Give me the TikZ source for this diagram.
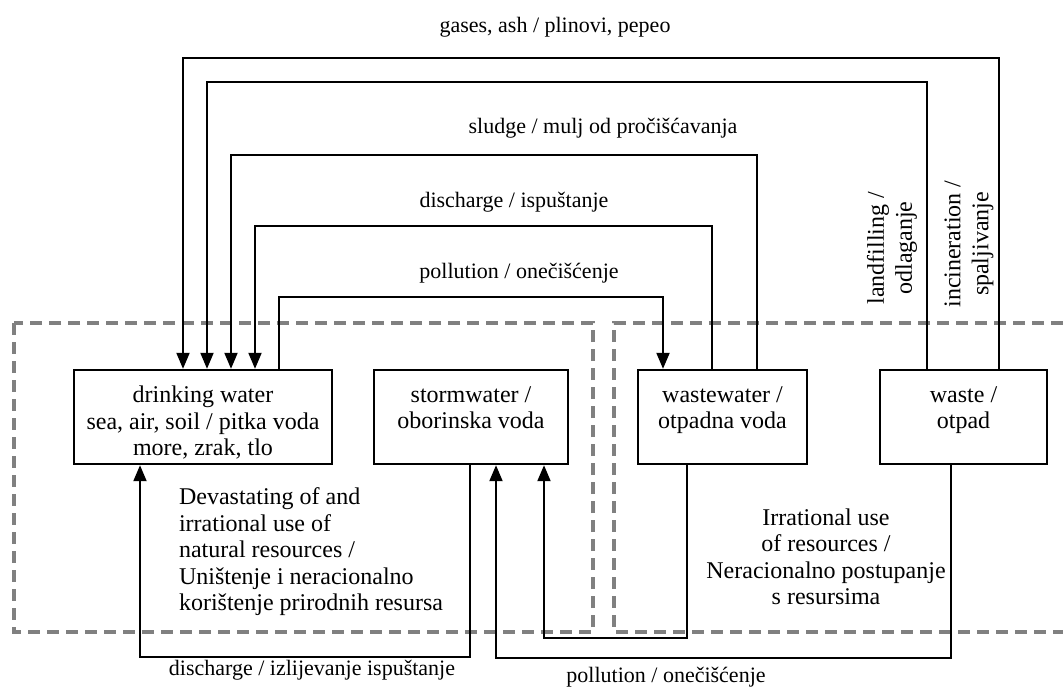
\documentclass[tikz,border=0pt]{standalone}
\usepackage{fontspec}
\setmainfont{Liberation Serif}
\usetikzlibrary{arrows.meta}

\begin{document}
\begin{tikzpicture}[x=0.5pt,y=-0.5pt,
    box/.style={draw, line width=1.2pt, minimum height=47pt, text height=40.25pt, text depth=1.75pt, inner sep=2.5pt, align=center, font=\fontsize{12}{13.25}\selectfont},
    twoline/.style={text height=26.75pt, text depth=15.25pt},
    flow/.style={line width=1pt, -{Triangle[length=8pt,width=6.5pt]}},
    zone/.style={draw=gray, line width=1.8pt, dash pattern=on 6pt off 3.5pt},
    lbl/.style={font=\fontsize{11}{13}\selectfont},
    note/.style={font=\fontsize{12}{13.25}\selectfont},
    vlbl/.style={rotate=90, align=center, font=\fontsize{12}{14}\selectfont}]
  \useasboundingbox (0,0) rectangle (1063,687);
  % zones
  \draw[zone] (14,323) rectangle (593,632);
  \draw[zone] (1063,323) -- (614,323) -- (614,632) -- (1063,632);
  % boxes
  \node[box, minimum width=129pt] (drink) at (203,417) {drinking water\\ sea, air, soil / pitka voda\\ more, zrak, tlo};
  \node[box, twoline, minimum width=97pt] (storm) at (471,417) {stormwater /\\ oborinska voda};
  \node[box, twoline, minimum width=84.5pt] (wwater) at (722.5,417) {wastewater /\\ otpadna voda};
  \node[box, twoline, minimum width=83.5pt] (waste) at (963.5,417) {waste /\\ otpad};
  % upper routes
  \coordinate (inc1) at (999,58);  \coordinate (inc2) at (183,58);
  \coordinate (land1) at (927,82); \coordinate (land2) at (207,82);
  \coordinate (sl1) at (757,155);  \coordinate (sl2) at (231,155);
  \coordinate (dis1) at (712,226); \coordinate (dis2) at (255,226);
  \coordinate (pol1) at (279,297); \coordinate (pol2) at (663,297);
  \draw[flow] (waste.north -| inc1) |- (inc2) -- (inc2 |- drink.north);
  \draw[flow] (waste.north -| land1) |- (land2) -- (land2 |- drink.north);
  \draw[flow] (wwater.north -| sl1) |- (sl2) -- (sl2 |- drink.north);
  \draw[flow] (wwater.north -| dis1) |- (dis2) -- (dis2 |- drink.north);
  \draw[flow] (drink.north -| pol1) |- (pol2) -- (pol2 |- wwater.north);
  % lower routes
  \coordinate (db1) at (470,657);  \coordinate (db2) at (140,657);
  \coordinate (wb1) at (687,638);  \coordinate (wb2) at (544,638);
  \coordinate (pb1) at (951,658);  \coordinate (pb2) at (496,658);
  \draw[flow] (storm.south -| db1) |- (db2) -- (db2 |- drink.south);
  \draw[flow] (wwater.south -| wb1) |- (wb2) -- (wb2 |- storm.south);
  \draw[flow] (waste.south -| pb1) |- (pb2) -- (pb2 |- storm.south);
  % labels
  \node[lbl] (lgas) at (555,27) {gases, ash / plinovi, pepeo};
  \node[lbl] (lsludge) at (603,128) {sludge / mulj od pročišćavanja};
  \node[lbl] (ldis) at (514,202) {discharge / ispuštanje};
  \node[lbl] (lpol) at (519,273) {pollution / onečišćenje};
  \node[lbl] (ldisb) at (312,670) {discharge / izlijevanje ispuštanje};
  \node[lbl] (lpolb) at (666,677) {pollution / onečišćenje};
  \node[vlbl] (lland) at (892,248) {landfilling /\\ odlaganje};
  \node[vlbl] (linc) at (969,244) {incineration /\\ spaljivanje};
  % notes
  \node[note, align=left, anchor=west] (ndev) at (172,552) {Devastating of and\\ irrational use of\\ natural resources /\\ Uništenje i neracionalno\\ korištenje prirodnih resursa};
  \node[note, align=center] (nirr) at (826,557) {Irrational use\\ of resources /\\ Neracionalno postupanje\\ s resursima};
\end{tikzpicture}
\end{document}
